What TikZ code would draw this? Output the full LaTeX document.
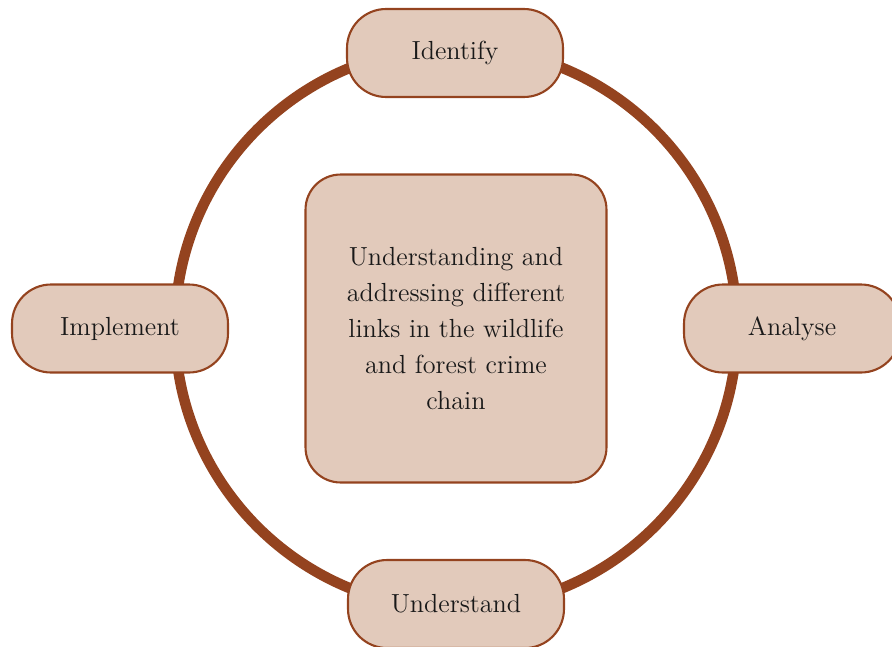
\documentclass[tikz,border=0pt]{standalone}
\usepackage{tikz}
\usepackage{xcolor}
\definecolor{rust}{HTML}{94431F}
\definecolor{sand}{HTML}{E2CABB}

\begin{document}
\begin{tikzpicture}[x=0.02cm,y=-0.02cm,
  stage/.style={draw=rust, line width=1.2pt, fill=sand, rounded corners=0.78cm,
    minimum width=4.32cm, minimum height=1.76cm, inner sep=0pt,
    font=\fontsize{14.9}{20.5}\selectfont, text=black!90},
  hub/.style={draw=rust, line width=1.2pt, fill=sand, rounded corners=0.7cm,
    minimum width=6.02cm, minimum height=6.16cm, inner sep=0pt, align=center,
    font=\fontsize{14.9}{20.5}\selectfont, text=black!90}]
\useasboundingbox (0,0) rectangle (892,646);
\coordinate (c) at (456,328);
\draw [rust, line width=6pt] (c) circle [radius=5.62cm];
\node [stage] (identify) at (455,53) {Identify};
\node [stage] (analyse) at (792,328.5) {Analyse};
\node [stage] (understand) at (456,604) {Understand};
\node [stage] (implement) at (120,328.5) {Implement};
\node [hub] (chain) at (456,328.5) {Understanding and\\addressing different\\links in the wildlife\\and forest crime\\chain};
\end{tikzpicture}
\end{document}
